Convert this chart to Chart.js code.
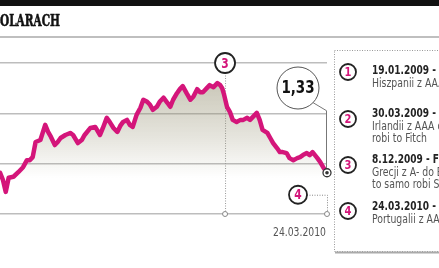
<!DOCTYPE html>
<html>
<head>
<meta charset="utf-8">
<script src="https://cdn.jsdelivr.net/npm/chart.js@4.4.1/dist/chart.umd.min.js"></script>
<style>
  html, body { margin: 0; padding: 0; background: #fff; overflow: hidden; }
</style>
</head>
<body>
<canvas id="wykres" width="439" height="268"></canvas>
<script>
// kurs euro w dolarach, dzien liczony od 1.01.2009
var dni = [107,110,113,116,121,126,131,135,138,141,144,149,154,157,160,164,167,170,175,180,183,188,192,195,201,206,211,214,218,221,225,229,232,235,239,242,245,249,253,256,260,263,266,270,273,277,281,284,287,291,294,297,301,305,308,312,315,318,322,325,329,333,336,338,340,343,346,349,353,357,360,364,367,370,374,377,380,385,388,391,395,398,401,405,408,412,416,419,422,426,429,432,437,440,443,447];
var kurs = [1.332,1.318,1.294,1.322,1.324,1.333,1.343,1.357,1.357,1.363,1.393,1.397,1.427,1.413,1.403,1.387,1.393,1.401,1.407,1.411,1.407,1.391,1.397,1.407,1.421,1.423,1.407,1.421,1.441,1.433,1.421,1.413,1.425,1.433,1.437,1.427,1.423,1.447,1.461,1.477,1.473,1.467,1.457,1.463,1.473,1.481,1.471,1.463,1.477,1.490,1.498,1.504,1.490,1.477,1.483,1.498,1.492,1.492,1.500,1.506,1.502,1.510,1.506,1.500,1.487,1.463,1.453,1.437,1.433,1.437,1.437,1.441,1.437,1.443,1.451,1.437,1.417,1.411,1.401,1.391,1.381,1.373,1.373,1.371,1.361,1.357,1.361,1.363,1.367,1.371,1.367,1.373,1.361,1.353,1.343,1.332];

var tytul = 'W DOLARACH';
var dataKoncowa = '24.03.2010';

// wydarzenia z legendy (dzien od 1.01.2009)
var numery = ['1', '2', '3', '4'];
var dniWydarzen = [18, 88, 341, 447];
var opisy = [
    ['19.01.2009 - S&P', 'Hiszpanii z AAA do AA+'],
    ['30.03.2009 - S&P', 'Irlandii z AAA do AA', 'robi to Fitch'],
    ['8.12.2009 - Fitch', 'Grecji z A- do BBB+', 'to samo robi S&P'],
    ['24.03.2010 - Fitch', 'Portugalii z AA do AA-']
];

var ROZ = '#d4157a';
var WASKI = '"DejaVu Sans Condensed", "DejaVu Sans", sans-serif';

// tekst sciesniony w poziomie
function tekst(c, t, x, y, sx) {
    c.save();
    c.translate(x, y);
    c.scale(sx, 1);
    c.fillText(t, 0, 0);
    c.restore();
}

function kolko(c, x, y, r, t, font) {
    c.save();
    c.setLineDash([]);
    c.beginPath();
    c.arc(x, y, r, 0, Math.PI * 2);
    c.fillStyle = '#fff';
    c.fill();
    c.lineWidth = 1.8;
    c.strokeStyle = '#222';
    c.stroke();
    c.fillStyle = ROZ;
    c.font = font;
    c.textAlign = 'center';
    c.textBaseline = 'middle';
    tekst(c, t, x, y + 1, 0.85);
    c.restore();
}

var ozdoby = {
    id: 'ozdoby',
    beforeDatasetsDraw: function (chart) {
        var c = chart.ctx, xs = chart.scales.x, ca = chart.chartArea;
        var x3 = xs.getPixelForValue(dniWydarzen[2]);
        c.save();
        c.strokeStyle = '#999';
        c.lineWidth = 1;
        c.setLineDash([1, 1.5]);
        c.beginPath();
        c.moveTo(x3 + 0.5, ca.top + 10);
        c.lineTo(x3 + 0.5, ca.bottom);
        c.stroke();
        c.restore();
    },
    afterDraw: function (chart) {
        var c = chart.ctx, xs = chart.scales.x, ys = chart.scales.y, ca = chart.chartArea;
        var W = chart.width;
        c.save();

        // pasek u gory i tytul
        c.fillStyle = '#111';
        c.fillRect(0, 0, W, 6);
        c.font = 'bold 16px "DejaVu Serif", serif';
        var s = 60 / c.measureText(tytul.slice(3)).width;
        c.save();
        c.translate(60, 26);
        c.scale(s, 1);
        c.fillStyle = '#111';
        c.strokeStyle = '#111';
        c.lineWidth = 0.6;
        c.textAlign = 'right';
        c.textBaseline = 'alphabetic';
        c.fillText(tytul, 0, 0);
        c.strokeText(tytul, 0, 0);
        c.restore();
        c.strokeStyle = '#aaa';
        c.lineWidth = 1.5;
        c.beginPath();
        c.moveTo(0, 37);
        c.lineTo(W, 37);
        c.stroke();

        // kolka na osi
        var x3 = xs.getPixelForValue(dniWydarzen[2]);
        var xk = xs.getPixelForValue(dni[dni.length - 1]);
        var yk = ys.getPixelForValue(kurs[kurs.length - 1]);
        [x3, xk].forEach(function (x) {
            c.beginPath();
            c.arc(x, ca.bottom, 2.5, 0, Math.PI * 2);
            c.fillStyle = '#fff';
            c.fill();
            c.lineWidth = 1;
            c.strokeStyle = '#888';
            c.stroke();
        });

        kolko(c, x3, ca.top, 10, numery[2], 'bold 14px ' + WASKI);

        // dymek z ostatnia wartoscia
        var bx = xk - 29, by = ca.top + 25, br = 21;
        c.strokeStyle = '#777';
        c.lineWidth = 1;
        c.beginPath();
        c.moveTo(bx + br * 0.72, by + br * 0.7);
        c.lineTo(xk - 0.5, by + br * 0.7 + 8);
        c.lineTo(xk - 0.5, yk - 4);
        c.stroke();
        c.beginPath();
        c.arc(bx, by, br, 0, Math.PI * 2);
        c.fillStyle = '#fff';
        c.fill();
        c.strokeStyle = '#555';
        c.lineWidth = 1;
        c.stroke();
        c.fillStyle = '#111';
        c.font = 'bold 17px ' + WASKI;
        c.textAlign = 'center';
        c.textBaseline = 'middle';
        tekst(c, kurs[kurs.length - 1].toFixed(2).replace('.', ','), bx, by + 1, 0.88);

        // ostatni punkt
        c.beginPath();
        c.arc(xk, yk, 4, 0, Math.PI * 2);
        c.fillStyle = '#fff';
        c.fill();
        c.strokeStyle = '#333';
        c.lineWidth = 1.3;
        c.stroke();
        c.beginPath();
        c.arc(xk, yk, 1.8, 0, Math.PI * 2);
        c.fillStyle = '#333';
        c.fill();

        // znacznik 4
        var y4 = yk + 22;
        c.strokeStyle = '#888';
        c.lineWidth = 1;
        c.setLineDash([1, 1.5]);
        c.beginPath();
        c.moveTo(xk - 29 + 9, y4 + 0.5);
        c.lineTo(xk + 0.5, y4 + 0.5);
        c.lineTo(xk + 0.5, ca.bottom - 3);
        c.stroke();
        c.setLineDash([]);
        kolko(c, xk - 29, y4, 9, numery[3], 'bold 14px ' + WASKI);

        // data pod osia
        c.fillStyle = '#555';
        c.font = '12px ' + WASKI;
        c.textAlign = 'right';
        c.textBaseline = 'middle';
        tekst(c, dataKoncowa, xk - 1, ca.bottom + 19, 53 / c.measureText(dataKoncowa).width);

        // ramka legendy
        c.strokeStyle = '#999';
        c.lineWidth = 1;
        c.setLineDash([1, 1.5]);
        c.strokeRect(334.5, 50.5, 200, 201);
        c.setLineDash([]);
        c.strokeStyle = '#aaa';
        c.lineWidth = 2;
        c.beginPath();
        c.moveTo(335, 252.5);
        c.lineTo(W, 252.5);
        c.stroke();

        // sciesnienie dobrane do szerokosci napisow w legendzie
        c.font = 'bold 12.5px ' + WASKI;
        var sxB = 64 / c.measureText('19.01.2009 -').width;
        c.font = '12px ' + WASKI;
        var sxR = 66 / c.measureText('Hiszpanii z AA').width;

        var wiersze = [71, 114, 160, 207];
        var kolkaY = [72, 119, 165, 211];
        opisy.forEach(function (op, i) {
            kolko(c, 348, kolkaY[i], 8, numery[i], 'bold 13px ' + WASKI);
            op.forEach(function (t, j) {
                c.fillStyle = j === 0 ? '#222' : '#555';
                c.font = (j === 0 ? 'bold 12.5px ' : '12px ') + WASKI;
                c.textAlign = 'left';
                c.textBaseline = 'middle';
                tekst(c, t, 372, wiersze[i] + j * 12.5, j === 0 ? sxB : sxR);
            });
        });

        c.restore();
    }
};

var ctx = document.getElementById('wykres').getContext('2d');
var chart = new Chart(ctx, {
    type: 'line',
    data: {
        labels: dni,
        datasets: [{
            data: dni.map(function (d, i) { return { x: d, y: kurs[i] }; }),
            borderColor: ROZ,
            borderWidth: 4.5,
            borderJoinStyle: 'round',
            borderCapStyle: 'round',
            pointRadius: 0,
            tension: 0,
            fill: 'start',
            backgroundColor: function (context) {
                var ca = context.chart.chartArea;
                if (!ca) return 'transparent';
                var g = context.chart.ctx.createLinearGradient(0, ca.top + 20, 0, ca.top + 115);
                g.addColorStop(0, 'rgba(150,145,115,0.5)');
                g.addColorStop(0.55, 'rgba(150,145,115,0.25)');
                g.addColorStop(1, 'rgba(150,145,115,0)');
                return g;
            }
        }]
    },
    options: {
        responsive: false,
        animation: false,
        devicePixelRatio: 1,
        layout: { padding: { left: 0, right: 112, top: 63, bottom: 54 } },
        plugins: { legend: { display: false }, tooltip: { enabled: false } },
        scales: {
            x: {
                type: 'linear',
                min: dni[0],
                max: dni[dni.length - 1],
                ticks: { display: false },
                grid: { display: false },
                border: { display: false },
                afterFit: function (s) { s.height = 0; }
            },
            y: {
                min: 1.25,
                max: 1.55,
                ticks: { display: false, stepSize: 0.1 },
                grid: { color: '#bdbdbd', lineWidth: 1.6, drawTicks: false },
                border: { display: false },
                afterFit: function (s) { s.width = 0; }
            }
        }
    },
    plugins: [ozdoby]
});
</script>
</body>
</html>
